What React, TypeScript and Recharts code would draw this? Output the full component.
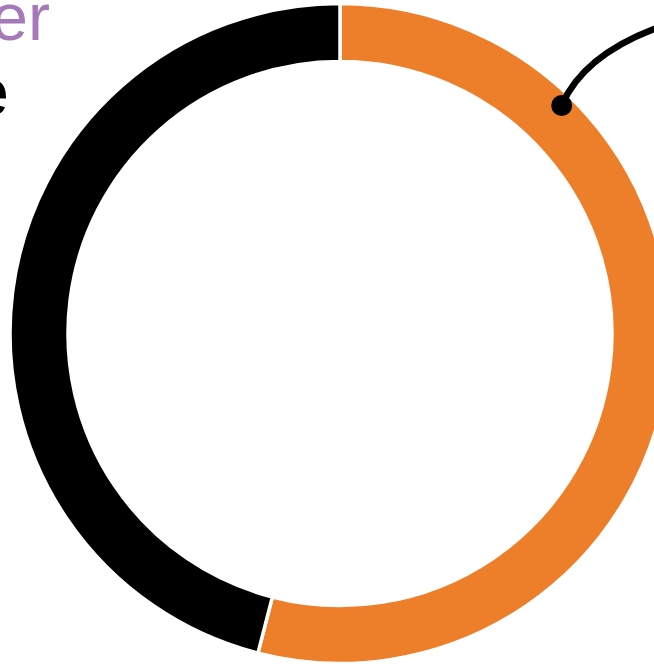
import React from 'react'
import { PieChart, Pie, Cell } from 'recharts'

const segments = ['Orange', 'Black']
const shares = [54, 46]
const colors = ['#EE7F2A', '#000000']

const chartData = segments.map((name, i) => ({ name, value: shares[i] }))

const CX = 340
const CY = 333.5
const INNER = 272
const OUTER = 330

// callout dot sits on the orange ring, upper right
function Callout() {
  const angle = (45.8 * Math.PI) / 180
  const r = 318
  const x = CX + r * Math.cos(angle)
  const y = CY - r * Math.sin(angle)
  return (
    <svg width={654} height={665} style={{ position: 'absolute', left: 0, top: 0, pointerEvents: 'none' }}>
      <path
        d={`M${x},${y} Q${x + 22},${y - 52} ${x + 102},${y - 80}`}
        fill="none"
        stroke="#000"
        strokeWidth={6.5}
      />
      <circle cx={x} cy={y} r={10.5} fill="#000" />
    </svg>
  )
}

export default function App() {
  return (
    <div style={{ position: 'fixed', left: 0, top: 0, width: 654, height: 665, background: '#fff', overflow: 'hidden' }}>
      <PieChart width={654} height={665} margin={{ top: 0, right: 0, bottom: 0, left: 0 }}>
        <Pie
          data={chartData}
          dataKey="value"
          cx={CX}
          cy={CY}
          innerRadius={INNER}
          outerRadius={OUTER}
          startAngle={90}
          endAngle={-270}
          stroke="#fff"
          strokeWidth={3.5}
          isAnimationActive={false}
        >
          {chartData.map((d, i) => (
            <Cell key={d.name} fill={colors[i]} />
          ))}
        </Pie>
        <text x={50} y={40} textAnchor="end" fontSize={66} fill="#A679B8" fontFamily="Liberation Sans, Arial, sans-serif">
          er
        </text>
        <text x={9} y={115} textAnchor="end" fontSize={66} fill="#000" fontFamily="Liberation Sans, Arial, sans-serif">
          e
        </text>
      </PieChart>
      <Callout />
    </div>
  )
}
